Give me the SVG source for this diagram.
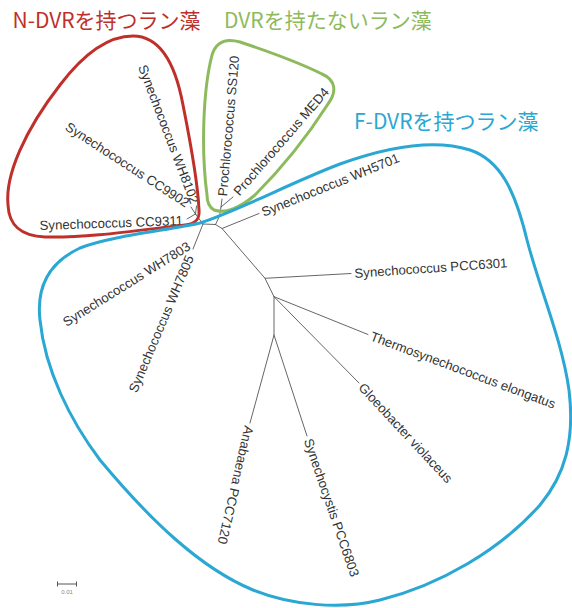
<svg xmlns="http://www.w3.org/2000/svg" width="572" height="608" viewBox="0 0 572 608">
<style>
.lbl{font-family:"Liberation Sans",Arial,sans-serif;font-size:13.2px;fill:#333}
.end{text-anchor:end}
.ttl{font-family:"Noto Sans CJK JP","Noto Sans",sans-serif;font-size:21px}
.br{stroke:#555;stroke-width:0.9;fill:none;stroke-linecap:round}
.loop{fill:none;stroke-width:3}
</style>
<rect width="572" height="608" fill="#fff"/>
<g id="connectors">
<path class="br" d="M203,224 L215.5,224.5 M215.5,224.5 L219.5,216 L221,207 L222,199 M221,207 L233,197 M215.5,224.5 L222,228.5 L259,213.5 M222,228.5 L265,278.3 L351,273.5 M265,278.3 L274,296.7 L368,334.5 M274,296.7 L359,383 M274,296.7 L274,335 L250,423 M274,335 L307,436 M203,224 L195.5,214 M195.5,214 L187,219 M195.5,214 L191,207 M195.5,214 L196.5,206 M203,224 L193,249"/>
</g>
<g id="node-ss120"><text class="lbl" transform="translate(222.3,196) rotate(-85)" y="4.6">Prochlorococcus SS120</text></g>
<g id="node-med4"><text class="lbl" transform="translate(236,193.5) rotate(-49)" y="4.6">Prochlorococcus MED4</text></g>
<g id="node-wh5701"><text class="lbl" transform="translate(262,212.5) rotate(-22)" y="4.6">Synechococcus WH5701</text></g>
<g id="node-pcc6301"><text class="lbl" transform="translate(354.5,273.3) rotate(-4)" y="4.6">Synechococcus PCC6301</text></g>
<g id="node-thermo"><text class="lbl" transform="translate(371,335.6) rotate(20.5)" y="4.6">Thermosynechococcus elongatus</text></g>
<g id="node-gloeo"><text class="lbl" transform="translate(361.2,385.2) rotate(47)" y="4.6">Gloeobacter violaceus</text></g>
<g id="node-pcc6803"><text class="lbl" transform="translate(308,439) rotate(71)" y="4.6">Synechocystis PCC6803</text></g>
<g id="node-pcc7120"><text class="lbl" transform="translate(249.3,426) rotate(103)" y="4.6">Anabaena PCC7120</text></g>
<g id="node-cc9311"><text class="lbl end" transform="translate(183,220.5) rotate(-2)" y="4.6">Synechococcus CC9311</text></g>
<g id="node-cc9902"><text class="lbl end" transform="translate(188,204) rotate(33)" y="4.6">Synechococcus CC9902</text></g>
<g id="node-wh8102"><text class="lbl end" transform="translate(195,203) rotate(69)" y="4.6">Synechococcus WH8102</text></g>
<g id="node-wh7803"><text class="lbl end" transform="translate(189,245) rotate(-32)" y="4.6">Synechococcus WH7803</text></g>
<g id="node-wh7805"><text class="lbl end" transform="translate(190,256) rotate(-67)" y="4.6">Synechococcus WH7805</text></g>
<g id="group-ndvr">
<path class="loop" stroke="#C0302A" d="M8,205 C5,175 25,130 60,85 C85,52 110,36 133,36 C160,36 175,62 183,105 C190,140 198,185 199,210 C200,220 195,224 185,225 C140,230 90,238 45,237 C20,236 9,225 8,205 Z"/>
<text class="ttl" x="12.5" y="28" fill="#C0302A">N-DVRを持つラン藻</text>
</g>
<g id="group-nodvr">
<path class="loop" stroke="#8DBA5C" d="M207,195 C201,150 203,90 212,55 C216,42 226,38 240,42 C270,52 300,63 322,74 C336,80 337,92 328,104 C305,140 280,170 255,195 C240,208 225,214 214,210 C209,207 207,202 207,195 Z"/>
<text class="ttl" x="224" y="28" fill="#8DBA5C">DVRを持たないラン藻</text>
</g>
<g id="group-fdvr">
<path class="loop" stroke="#2AA7D2" d="M200,223 C240,210 290,183 340,164 C390,146 435,139 470,150 C500,160 515,190 527,240 C540,290 562,340 569,390 C575,440 565,475 540,505 C500,550 440,585 380,600 C340,610 290,605 253,590 C200,568 150,520 100,460 C70,420 45,370 40,320 C36,285 50,262 80,248 C110,236 170,230 200,223 Z"/>
<text class="ttl" x="354" y="129" fill="#2AA7D2">F-DVRを持つラン藻</text>
</g>
<g id="scale">
<path stroke="#555" stroke-width="1" fill="none" d="M57.5,584 H76.5 M57.5,581.5 V586.5 M76.5,581.5 V586.5"/>
<text x="67" y="594" font-family="Liberation Sans, Arial, sans-serif" font-size="6" fill="#888" text-anchor="middle">0.01</text>
</g>
</svg>
